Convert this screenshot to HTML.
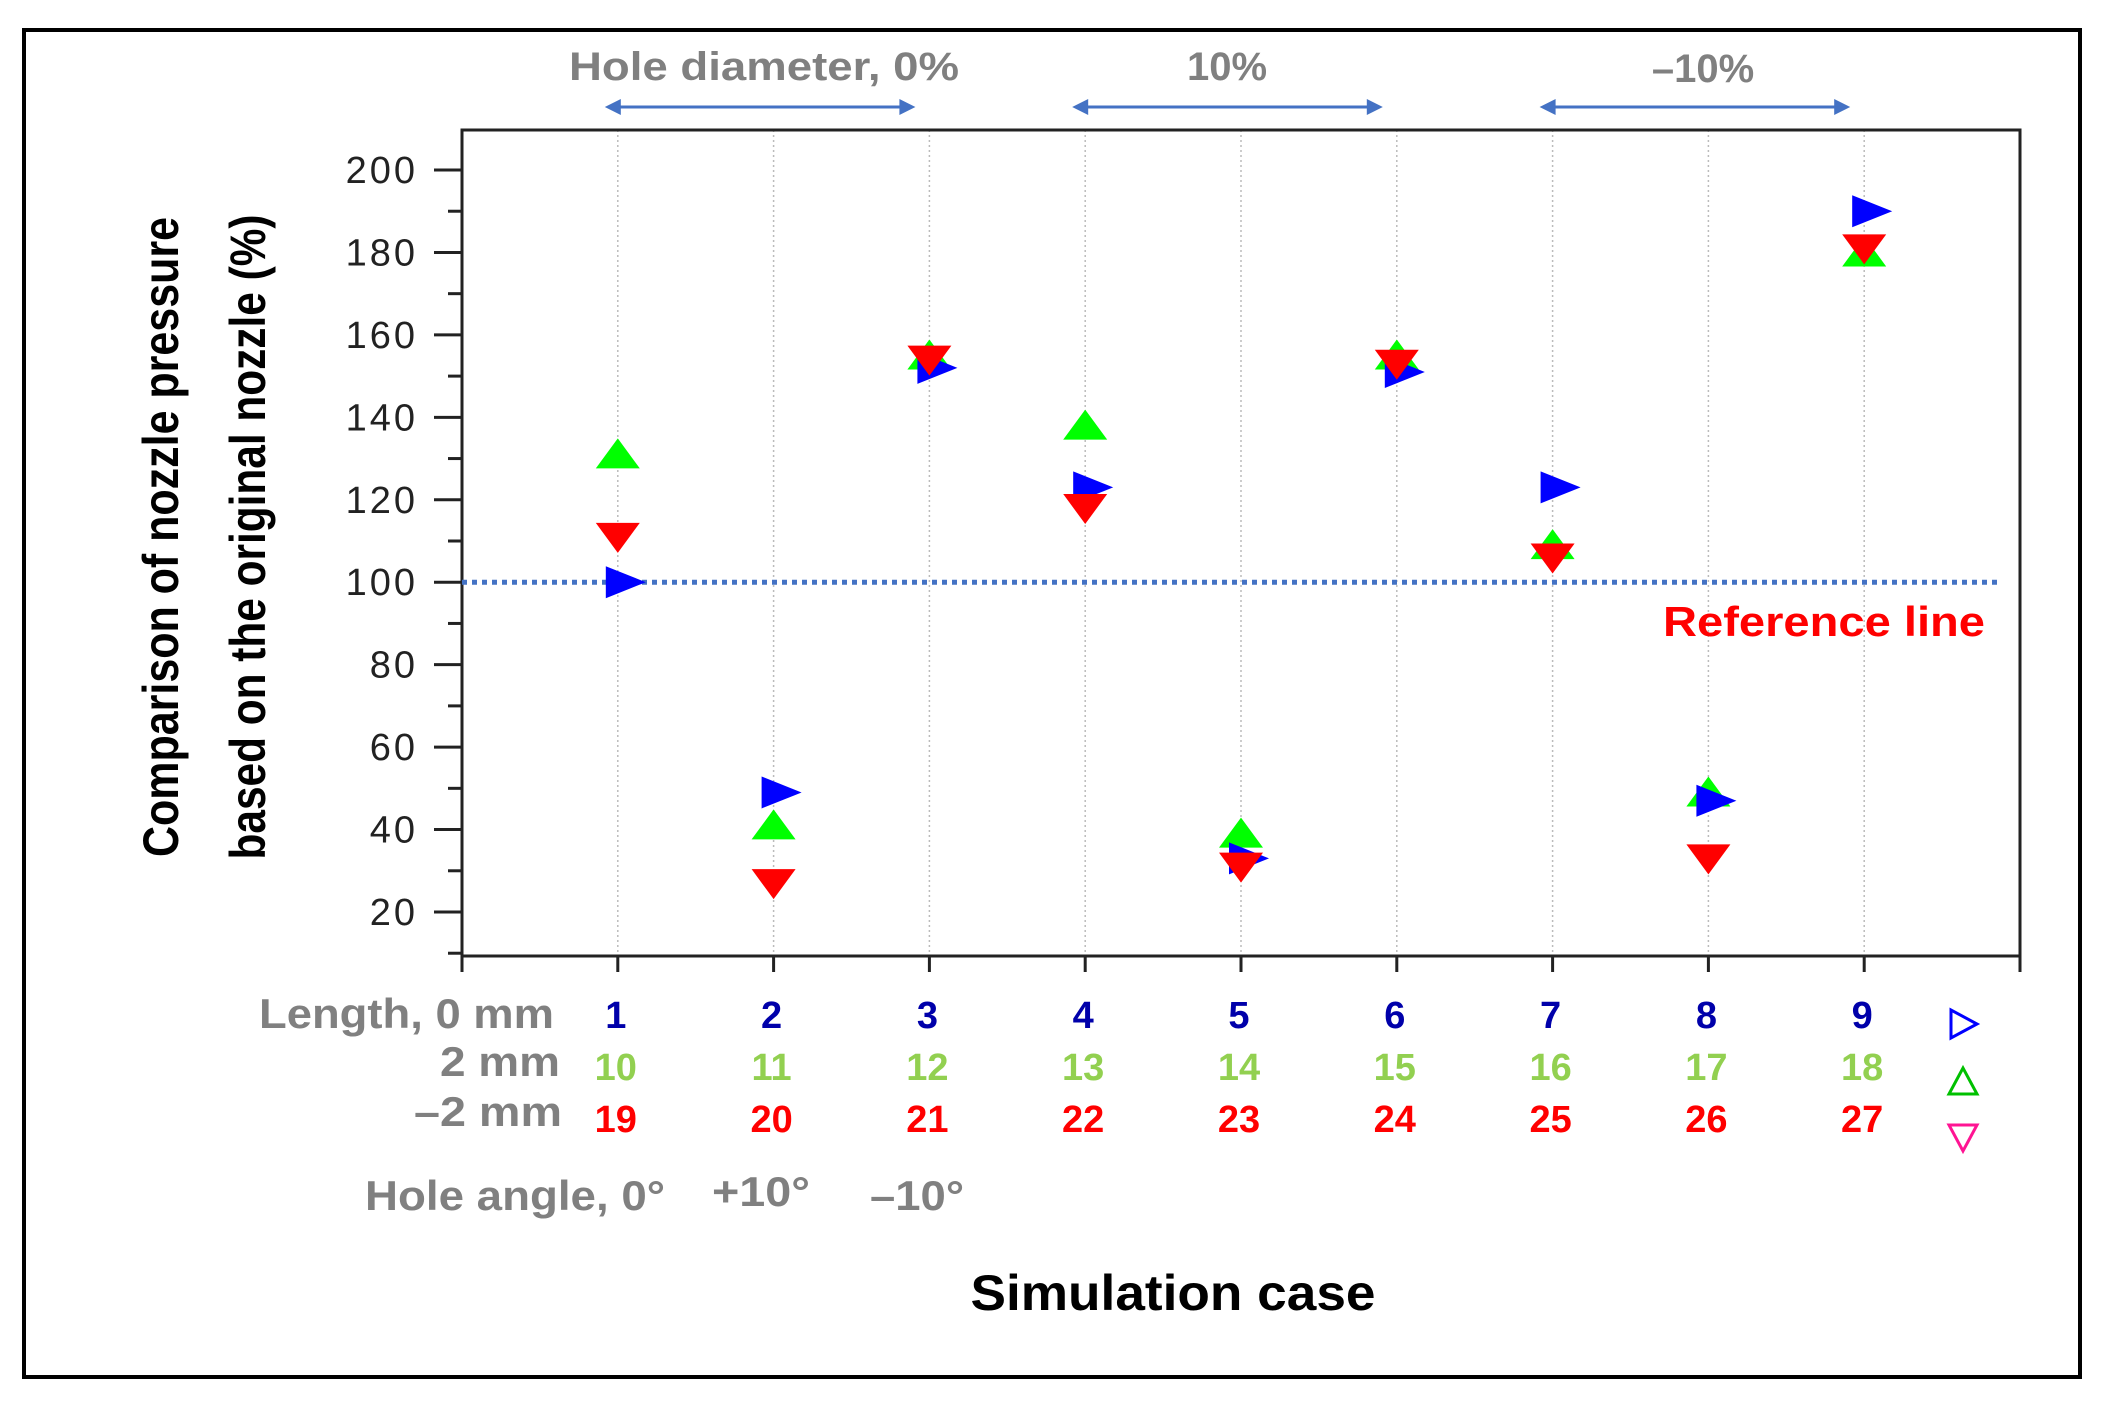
<!DOCTYPE html>
<html><head><meta charset="utf-8"><style>
html,body{margin:0;padding:0;background:#fff;}
svg{display:block;font-family:"Liberation Sans",sans-serif;}
</style></head><body>
<svg id="chart" width="2103" height="1405" viewBox="0 0 2103 1405">
<rect x="24" y="30" width="2056" height="1347" fill="#fff" stroke="#000" stroke-width="4"/>
<g id="grid"></g>
<g id="axes"></g>
<g id="marks"></g>
<g id="labels"></g>
<text x="0" y="0" transform="translate(178,537) rotate(-90)" text-anchor="middle" font-size="50" font-weight="bold" textLength="640" lengthAdjust="spacingAndGlyphs">Comparison of nozzle pressure</text>
<text x="0" y="0" transform="translate(265,537) rotate(-90)" text-anchor="middle" font-size="50" font-weight="bold" textLength="645" lengthAdjust="spacingAndGlyphs">based on the original nozzle (%)</text>
<text x="1173" y="1310" text-anchor="middle" font-size="50" font-weight="bold" textLength="405" lengthAdjust="spacingAndGlyphs">Simulation case</text>
<text x="1663" y="636" font-size="42" font-weight="bold" fill="#ff0000" textLength="322" lengthAdjust="spacingAndGlyphs">Reference line</text>
<text x="764" y="80" text-anchor="middle" font-size="40" font-weight="bold" fill="#808080" textLength="390" lengthAdjust="spacingAndGlyphs">Hole diameter, 0%</text>
<text x="1227" y="80" text-anchor="middle" font-size="40" font-weight="bold" fill="#808080">10%</text>
<text x="1703" y="82" text-anchor="middle" font-size="40" font-weight="bold" fill="#808080">–10%</text>
<text x="554" y="1028" text-anchor="end" font-size="42" font-weight="bold" fill="#808080" textLength="295" lengthAdjust="spacingAndGlyphs">Length, 0 mm</text>
<text x="560" y="1076" text-anchor="end" font-size="42" font-weight="bold" fill="#808080" textLength="120" lengthAdjust="spacingAndGlyphs">2 mm</text>
<text x="562" y="1126" text-anchor="end" font-size="42" font-weight="bold" fill="#808080" textLength="148" lengthAdjust="spacingAndGlyphs">–2 mm</text>
<text x="365" y="1210" font-size="42" font-weight="bold" fill="#808080" textLength="300" lengthAdjust="spacingAndGlyphs">Hole angle, 0°</text>
<text x="712" y="1206" font-size="42" font-weight="bold" fill="#808080" textLength="98" lengthAdjust="spacingAndGlyphs">+10°</text>
<text x="870" y="1210" font-size="42" font-weight="bold" fill="#808080" textLength="94" lengthAdjust="spacingAndGlyphs">–10°</text>
<g>
<polygon points="1951,1010 1951,1038 1977,1024" fill="none" stroke="#0000ff" stroke-width="3"/>
<polygon points="1949,1094 1977,1094 1963,1068" fill="none" stroke="#00c000" stroke-width="3"/>
<polygon points="1949,1125 1977,1125 1963,1151" fill="none" stroke="#ff1493" stroke-width="3"/>
</g>
</svg>
<script>
const categories = [1,2,3,4,5,6,7,8,9];
const blueValues = [100,49,152,123,33,151,123,47,190];
const greenValues = [131,41,155,138,39,155,109,49,180];
const redValues = [111,27,154,118,31,153,106,33,181];
const yTicks = [20,40,60,80,100,120,140,160,180,200];
const row1Labels = ["1","2","3","4","5","6","7","8","9"];
const row2Labels = ["10","11","12","13","14","15","16","17","18"];
const row3Labels = ["19","20","21","22","23","24","25","26","27"];
const spans = [[1,3],[4,6],[7,9]];
const refValue = 100;

const NS="http://www.w3.org/2000/svg";
const L=462,R=2020,T=130,B=956;
const xs=c=>L+(c-0)*(R-L)/10;
const ys=v=>170+(200-v)*(912-170)/180;
function mk(tag,attrs,parent){const e=document.createElementNS(NS,tag);for(const k in attrs)e.setAttribute(k,attrs[k]);parent.appendChild(e);return e;}
const grid=document.getElementById('grid'),axes=document.getElementById('axes'),marks=document.getElementById('marks'),labels=document.getElementById('labels');

categories.forEach(c=>{
  const g=mk('line',{x1:xs(c),x2:xs(c),y1:T,y2:B,stroke:'#bbb','stroke-width':1.5,'stroke-dasharray':'2,3'},grid);
  
  
});
const fr=mk('rect',{x:L,y:T,width:R-L,height:B-T,fill:'none',stroke:'#222','stroke-width':3},axes);


for(let v=10;v<=200;v+=10){
  const major=v%20===0;
  const t=mk('line',{x1:L-(major?28:14),x2:L,y1:ys(v),y2:ys(v),stroke:'#222','stroke-width':3},axes);
  
  
}
yTicks.forEach(v=>{
  const t=mk('text',{x:418,y:ys(v)+13,'text-anchor':'end','font-size':38,fill:'#222','letter-spacing':'3'},axes);
  t.textContent=v;
  
  
});
for(let c=0;c<=10;c++){
  const t=mk('line',{x1:xs(c),x2:xs(c),y1:B,y2:B+16,stroke:'#222','stroke-width':3},axes);
  
  
}
const ref=mk('line',{x1:L,x2:2002,y1:ys(refValue),y2:ys(refValue),stroke:'#4472c4','stroke-width':5,'stroke-dasharray':'5,5'},marks);



spans.forEach((s,i)=>{
  const a=xs(s[0])-13,b=xs(s[1])-14,y=107;
  const g=mk('g',{},labels);
  
  
  mk('line',{x1:a+12,x2:b-12,y1:y,y2:y,stroke:'#4472c4','stroke-width':3},g);
  mk('polygon',{points:`${a},${y} ${a+16},${y-8} ${a+16},${y+8}`,fill:'#4472c4'},g);
  mk('polygon',{points:`${b},${y} ${b-16},${y-8} ${b-16},${y+8}`,fill:'#4472c4'},g);
});

categories.forEach((c,i)=>{
  const x=xs(c);
  let y=ys(greenValues[i]);
  const g=mk('polygon',{points:`${x-22},${y+14} ${x+22},${y+14} ${x},${y-16}`,fill:'#00ff00'},marks);
  
  
  y=ys(blueValues[i]);
  const b=mk('polygon',{points:`${x-12},${y-16} ${x-12},${y+16} ${x+28},${y}`,fill:'#0000ff'},marks);
  
  
  y=ys(redValues[i]);
  const r=mk('polygon',{points:`${x-22},${y-14} ${x+22},${y-14} ${x},${y+16}`,fill:'#ff0000'},marks);
  
  
  [[row1Labels,1028,'#0000aa'],[row2Labels,1080,'#92d050'],[row3Labels,1132,'#ff0000']].forEach((row,k)=>{
    const t=mk('text',{x:x-2,y:row[1],'text-anchor':'middle','font-size':38,'font-weight':'bold',fill:row[2]},labels);
    t.textContent=row[0][i];
    
    
  });
});
</script>
</body></html>
